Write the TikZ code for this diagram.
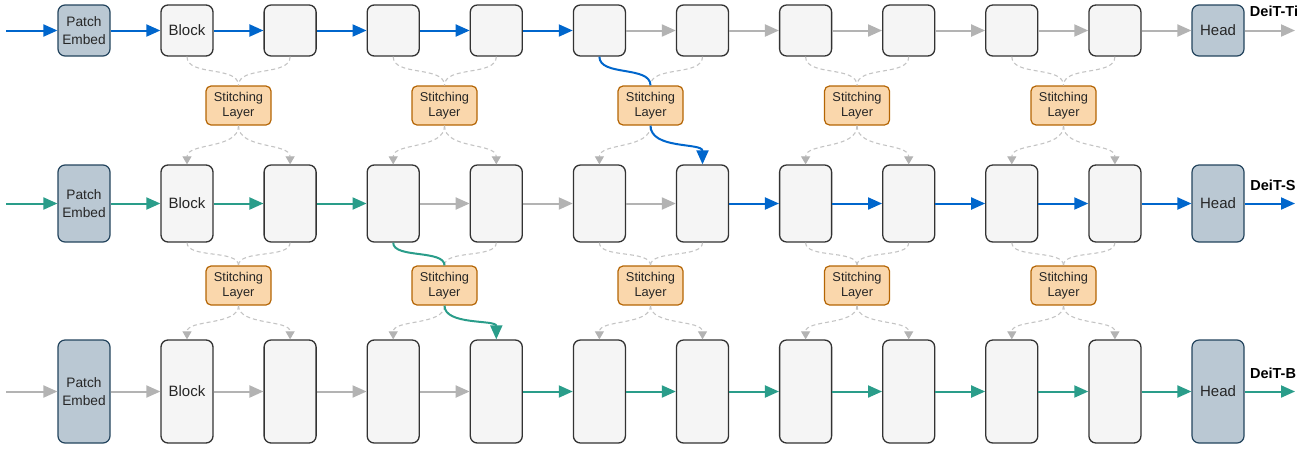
\documentclass[tikz,border=0pt]{standalone}
\usepackage{fontspec}
\setmainfont{Liberation Sans}
\usetikzlibrary{arrows.meta}
\definecolor{blu}{HTML}{0066CC}
\definecolor{tel}{HTML}{2A9D8A}
\definecolor{gry}{HTML}{B3B3B3}
\definecolor{dgry}{HTML}{C4C4C4}
\definecolor{blkfill}{HTML}{F5F5F5}
\definecolor{blkdraw}{HTML}{333333}
\definecolor{pefill}{HTML}{BAC8D3}
\definecolor{pedraw}{HTML}{23445D}
\definecolor{stfill}{HTML}{FAD7AC}
\definecolor{stdraw}{HTML}{B46504}
\tikzset{
  blk/.style={draw=blkdraw, fill=blkfill, line width=1.3pt, rounded corners=7pt,
    minimum width=52pt, inner sep=0pt, font=\fontsize{15}{18}\selectfont, text=black!85},
  pe/.style={draw=pedraw, fill=pefill, line width=1.2pt, rounded corners=7pt,
    minimum width=52pt, inner sep=0pt, align=center, text=black!85},
  stl/.style={draw=stdraw, fill=stfill, line width=1.2pt, rounded corners=5pt,
    minimum width=65pt, minimum height=39pt, inner sep=0pt, align=center,
    font=\fontsize{12.8}{15}\selectfont, text=black!85},
  lab/.style={font=\bfseries\fontsize{14.5}{17}\selectfont, inner sep=0pt},
  arr/.style={line width=2pt, -{Triangle[length=14pt,width=12pt]}},
  barr/.style={arr, color=blu},
  tarr/.style={arr, color=tel},
  garr/.style={arr, color=gry},
  dsh/.style={draw=dgry, line width=1.1pt, dash pattern=on 4pt off 3pt},
  darr/.style={dsh, -{Triangle[length=8pt,width=9pt,fill=gry,color=gry]}},
}
\begin{document}
\begin{tikzpicture}[x=1pt,y=-1pt]
\useasboundingbox (0,0) rectangle (1313,448);
% rows of nodes
\foreach \r/\y/\h in {1/30.5/51, 2/203.5/77, 3/391.5/103} {
  \node[pe, minimum height=\h pt, font=\fontsize{13.7}{18}\selectfont] (pe\r) at (84,\y) {Patch\\Embed};
  \foreach \k in {0,...,9} {
    \node[blk, minimum height=\h pt] (b\r-\k) at ({187+103.1*\k},\y) {\ifnum\k=0 Block\fi};
  }
  \node[pe, minimum height=\h pt, font=\fontsize{15}{18}\selectfont] (h\r) at (1218,\y) {Head};
  \coordinate (in\r) at (6,\y);
  \coordinate (out\r) at (1295,\y);
}
% stitching layers
\foreach \j/\x in {0/238.5, 1/444.5, 2/650.5, 3/857, 4/1063.5} {
  \node[stl] (s1-\j) at (\x,105.5) {\raisebox{-1.5pt}{\shortstack{Stitching\\[1pt]Layer}}};
  \node[stl] (s2-\j) at (\x,285.5) {\raisebox{-1.5pt}{\shortstack{Stitching\\[1pt]Layer}}};
}
% labels
\node[lab] (l1) at (1274,11) {DeiT-Ti};
\node[lab] (l2) at (1273,185) {DeiT-S};
\node[lab] (l3) at (1273,373) {DeiT-B};

% dashed connections (row1 -> stitch1 -> row2)
\foreach \a/\s in {1-0/0, 1-1/0, 1-2/1, 1-3/1, 1-5/2, 1-6/3, 1-7/3, 1-8/4, 1-9/4} {
  \draw[dsh] (b\a.south) .. controls +(0,20) and +(0,-20) .. (s1-\s.north);
}
\foreach \a/\s in {2-0/0, 2-1/0, 2-2/1, 2-3/1, 2-4/2, 2-6/3, 2-7/3, 2-8/4, 2-9/4} {
  \draw[darr] (s1-\s.south) .. controls +(0,24) and +(0,-22) .. (b\a.north);
}
% dashed connections (row2 -> stitch2 -> row3)
\foreach \a/\s in {2-0/0, 2-1/0, 2-3/1, 2-4/2, 2-5/2, 2-6/3, 2-7/3, 2-8/4, 2-9/4} {
  \draw[dsh] (b\a.south) .. controls +(0,16) and +(0,-16) .. (s2-\s.north);
}
\foreach \a/\s in {3-0/0, 3-1/0, 3-2/1, 3-4/2, 3-5/2, 3-6/3, 3-7/3, 3-8/4, 3-9/4} {
  \draw[darr] (s2-\s.south) .. controls +(0,20) and +(0,-20) .. (b\a.north);
}
% coloured stitching paths
\draw[line width=2pt, blu] (b1-4.south) .. controls +(0,20) and +(0,-20) .. (s1-2.north);
\draw[barr] (s1-2.south) .. controls +(0,24) and +(0,-22) .. (b2-5.north);
\draw[line width=2pt, tel] (b2-2.south) .. controls +(0,16) and +(0,-16) .. (s2-1.north);
\draw[tarr] (s2-1.south) .. controls +(0,20) and +(0,-20) .. (b3-3.north);

% row 1
\draw[barr] (in1) -- (pe1);
\draw[barr] (pe1) -- (b1-0);
\foreach \i/\n in {0/1,1/2,2/3,3/4} \draw[barr] (b1-\i) -- (b1-\n);
\foreach \i/\n in {4/5,5/6,6/7,7/8,8/9} \draw[garr] (b1-\i) -- (b1-\n);
\draw[garr] (b1-9) -- (h1);
\draw[garr] (h1) -- (out1);
% row 2
\draw[tarr] (in2) -- (pe2);
\draw[tarr] (pe2) -- (b2-0);
\foreach \i/\n in {0/1,1/2} \draw[tarr] (b2-\i) -- (b2-\n);
\foreach \i/\n in {2/3,3/4,4/5} \draw[garr] (b2-\i) -- (b2-\n);
\foreach \i/\n in {5/6,6/7,7/8,8/9} \draw[barr] (b2-\i) -- (b2-\n);
\draw[barr] (b2-9) -- (h2);
\draw[barr] (h2) -- (out2);
% row 3
\draw[garr] (in3) -- (pe3);
\draw[garr] (pe3) -- (b3-0);
\foreach \i/\n in {0/1,1/2,2/3} \draw[garr] (b3-\i) -- (b3-\n);
\foreach \i/\n in {3/4,4/5,5/6,6/7,7/8,8/9} \draw[tarr] (b3-\i) -- (b3-\n);
\draw[tarr] (b3-9) -- (h3);
\draw[tarr] (h3) -- (out3);
\end{tikzpicture}
\end{document}
